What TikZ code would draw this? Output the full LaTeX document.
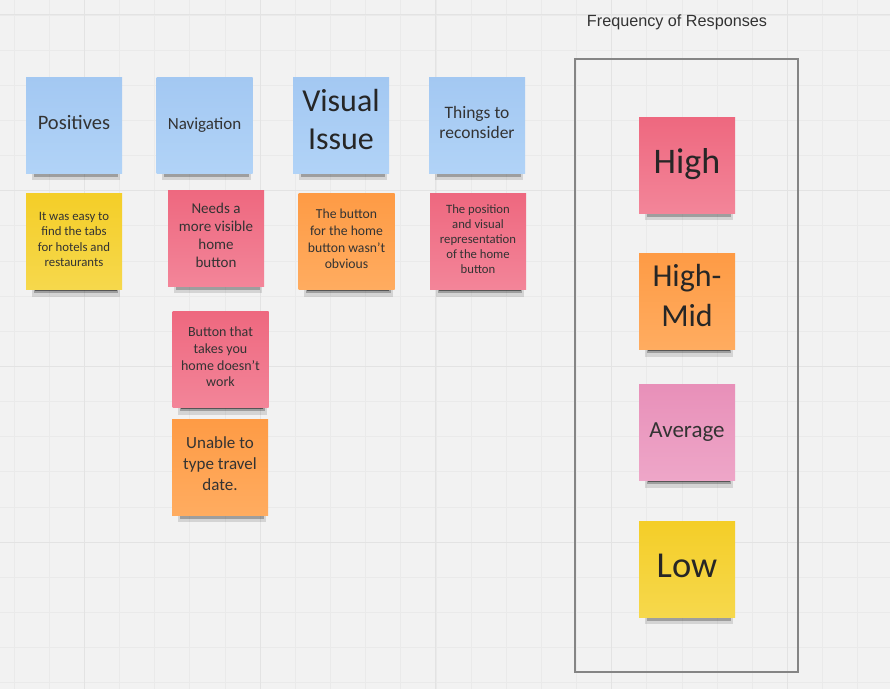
\documentclass[tikz,border=0pt]{standalone}
\usepackage{fontspec}
\setmainfont{Carlito}
\newfontfamily\titlefont{Liberation Sans}
\usetikzlibrary{shadows}
\definecolor{bg}{HTML}{F2F2F2}
\definecolor{gridminor}{HTML}{EAEAEA}
\definecolor{gridmajor}{HTML}{E3E3E3}
\definecolor{blueT}{HTML}{A3C8F2}
\definecolor{blueB}{HTML}{B1D3F7}
\definecolor{yelT}{HTML}{F4CE28}
\definecolor{yelB}{HTML}{F6D84C}
\definecolor{redT}{HTML}{EE687F}
\definecolor{redB}{HTML}{F38599}
\definecolor{orT}{HTML}{FE9B45}
\definecolor{orB}{HTML}{FFAC60}
\definecolor{pkT}{HTML}{E890B9}
\definecolor{pkB}{HTML}{EEA6C8}
\definecolor{ink}{HTML}{333333}
\definecolor{boxline}{HTML}{858585}
\tikzset{
  note/.style={minimum width=96pt, minimum height=96pt, inner sep=1pt, align=center,
    text=ink, execute at begin node=\strut, execute at end node=\strut,
    general shadow={fill=black, opacity=0.12, shadow yshift=-12pt, shadow xshift=2pt, shadow scale=0.92},
    general shadow={fill=black, opacity=0.25, shadow yshift=-11pt, shadow xshift=2pt, shadow scale=0.88},
    general shadow={fill=black, opacity=0.45, shadow yshift=-10pt, shadow xshift=2pt, shadow scale=0.85}},
  bluenote/.style={note, top color=blueT, bottom color=blueB},
  yellownote/.style={note, top color=yelT, bottom color=yelB},
  rednote/.style={note, top color=redT, bottom color=redB},
  orangenote/.style={note, top color=orT, bottom color=orB},
  pinknote/.style={note, top color=pkT, bottom color=pkB},
  fs/.style 2 args={font=\fontsize{#1}{#2}\selectfont},
}
\begin{document}
\begin{tikzpicture}[x=1pt, y=-1pt]
\fill[bg] (0,0) rectangle (890,689);
\useasboundingbox (0,0) rectangle (890,689);
% grid
\foreach \i in {0,...,25}{
  \pgfmathsetmacro{\gx}{14.0+35.15*\i}
  \pgfmathsetmacro{\gy}{14.8+35.15*\i}
  \draw[gridminor, line width=0.6pt] (\gx,0) -- (\gx,689);
  \draw[gridminor, line width=0.6pt] (0,\gy) -- (890,\gy);
}
\foreach \gx in {84.3,260.0,435.8,611.5,787.2}{
  \draw[gridmajor, line width=0.9pt] (\gx,0) -- (\gx,689);
}
\foreach \gy in {14.8,190.5,366.3,542.0}{
  \draw[gridmajor, line width=0.9pt] (0,\gy) -- (890,\gy);
}
% headers
\node[bluenote, fs={20.5}{24}] (pos) at (74,125) {Positives};
\node[bluenote, fs={17}{20}] (nav) at (204.5,125) {Navigation};
\node[bluenote, fs={32}{38}, text=black!85] (vis) at (341,125) {Visual\\Issue};
\node[bluenote, fs={17.5}{20}] (thi) at (477,125) {Things to\\reconsider};
% row 2
\node[yellownote, fs={12.8}{15.5}] (easy) at (74,241.5) {It was easy to\\find the tabs\\for hotels and\\restaurants};
\node[rednote, fs={15}{18.3}] (needs) at (216,238) {Needs a\\more visible\\home\\button};
\node[orangenote, fs={13.7}{16.7}] (btn) at (346.5,241.5) {The button\\for the home\\button wasn't\\obvious};
\node[rednote, fs={12.7}{15}] (posi) at (478,241.5) {The position\\and visual\\representation\\of the home\\button};
% navigation column
\node[rednote, fs={14}{16.7}] (takes) at (220.5,359.5) {Button that\\takes you\\home doesn't\\work};
\node[orangenote, fs={17}{21}] (unable) at (220,467) {Unable to\\type travel\\date.};
% frequency panel
\node[font=\titlefont\fontsize{16.2}{19}\selectfont, text=ink] (title) at (677,22) {Frequency of Responses};
\node[draw=boxline, line width=1.2pt, minimum width=223pt, minimum height=613pt, inner sep=0pt] (freq) at (686.5,365.5) {};
\node[rednote, fs={36}{43}, text=black!85] (high) at (687,165) {High};
\node[orangenote, fs={32}{40}, text=black!85] (highmid) at (687,301.5) {High-\\Mid};
\node[pinknote, fs={23}{27}] (avg) at (687,432.5) {Average};
\node[yellownote, fs={36.5}{43}, text=black!85] (low) at (687,569) {Low};
\end{tikzpicture}
\end{document}
